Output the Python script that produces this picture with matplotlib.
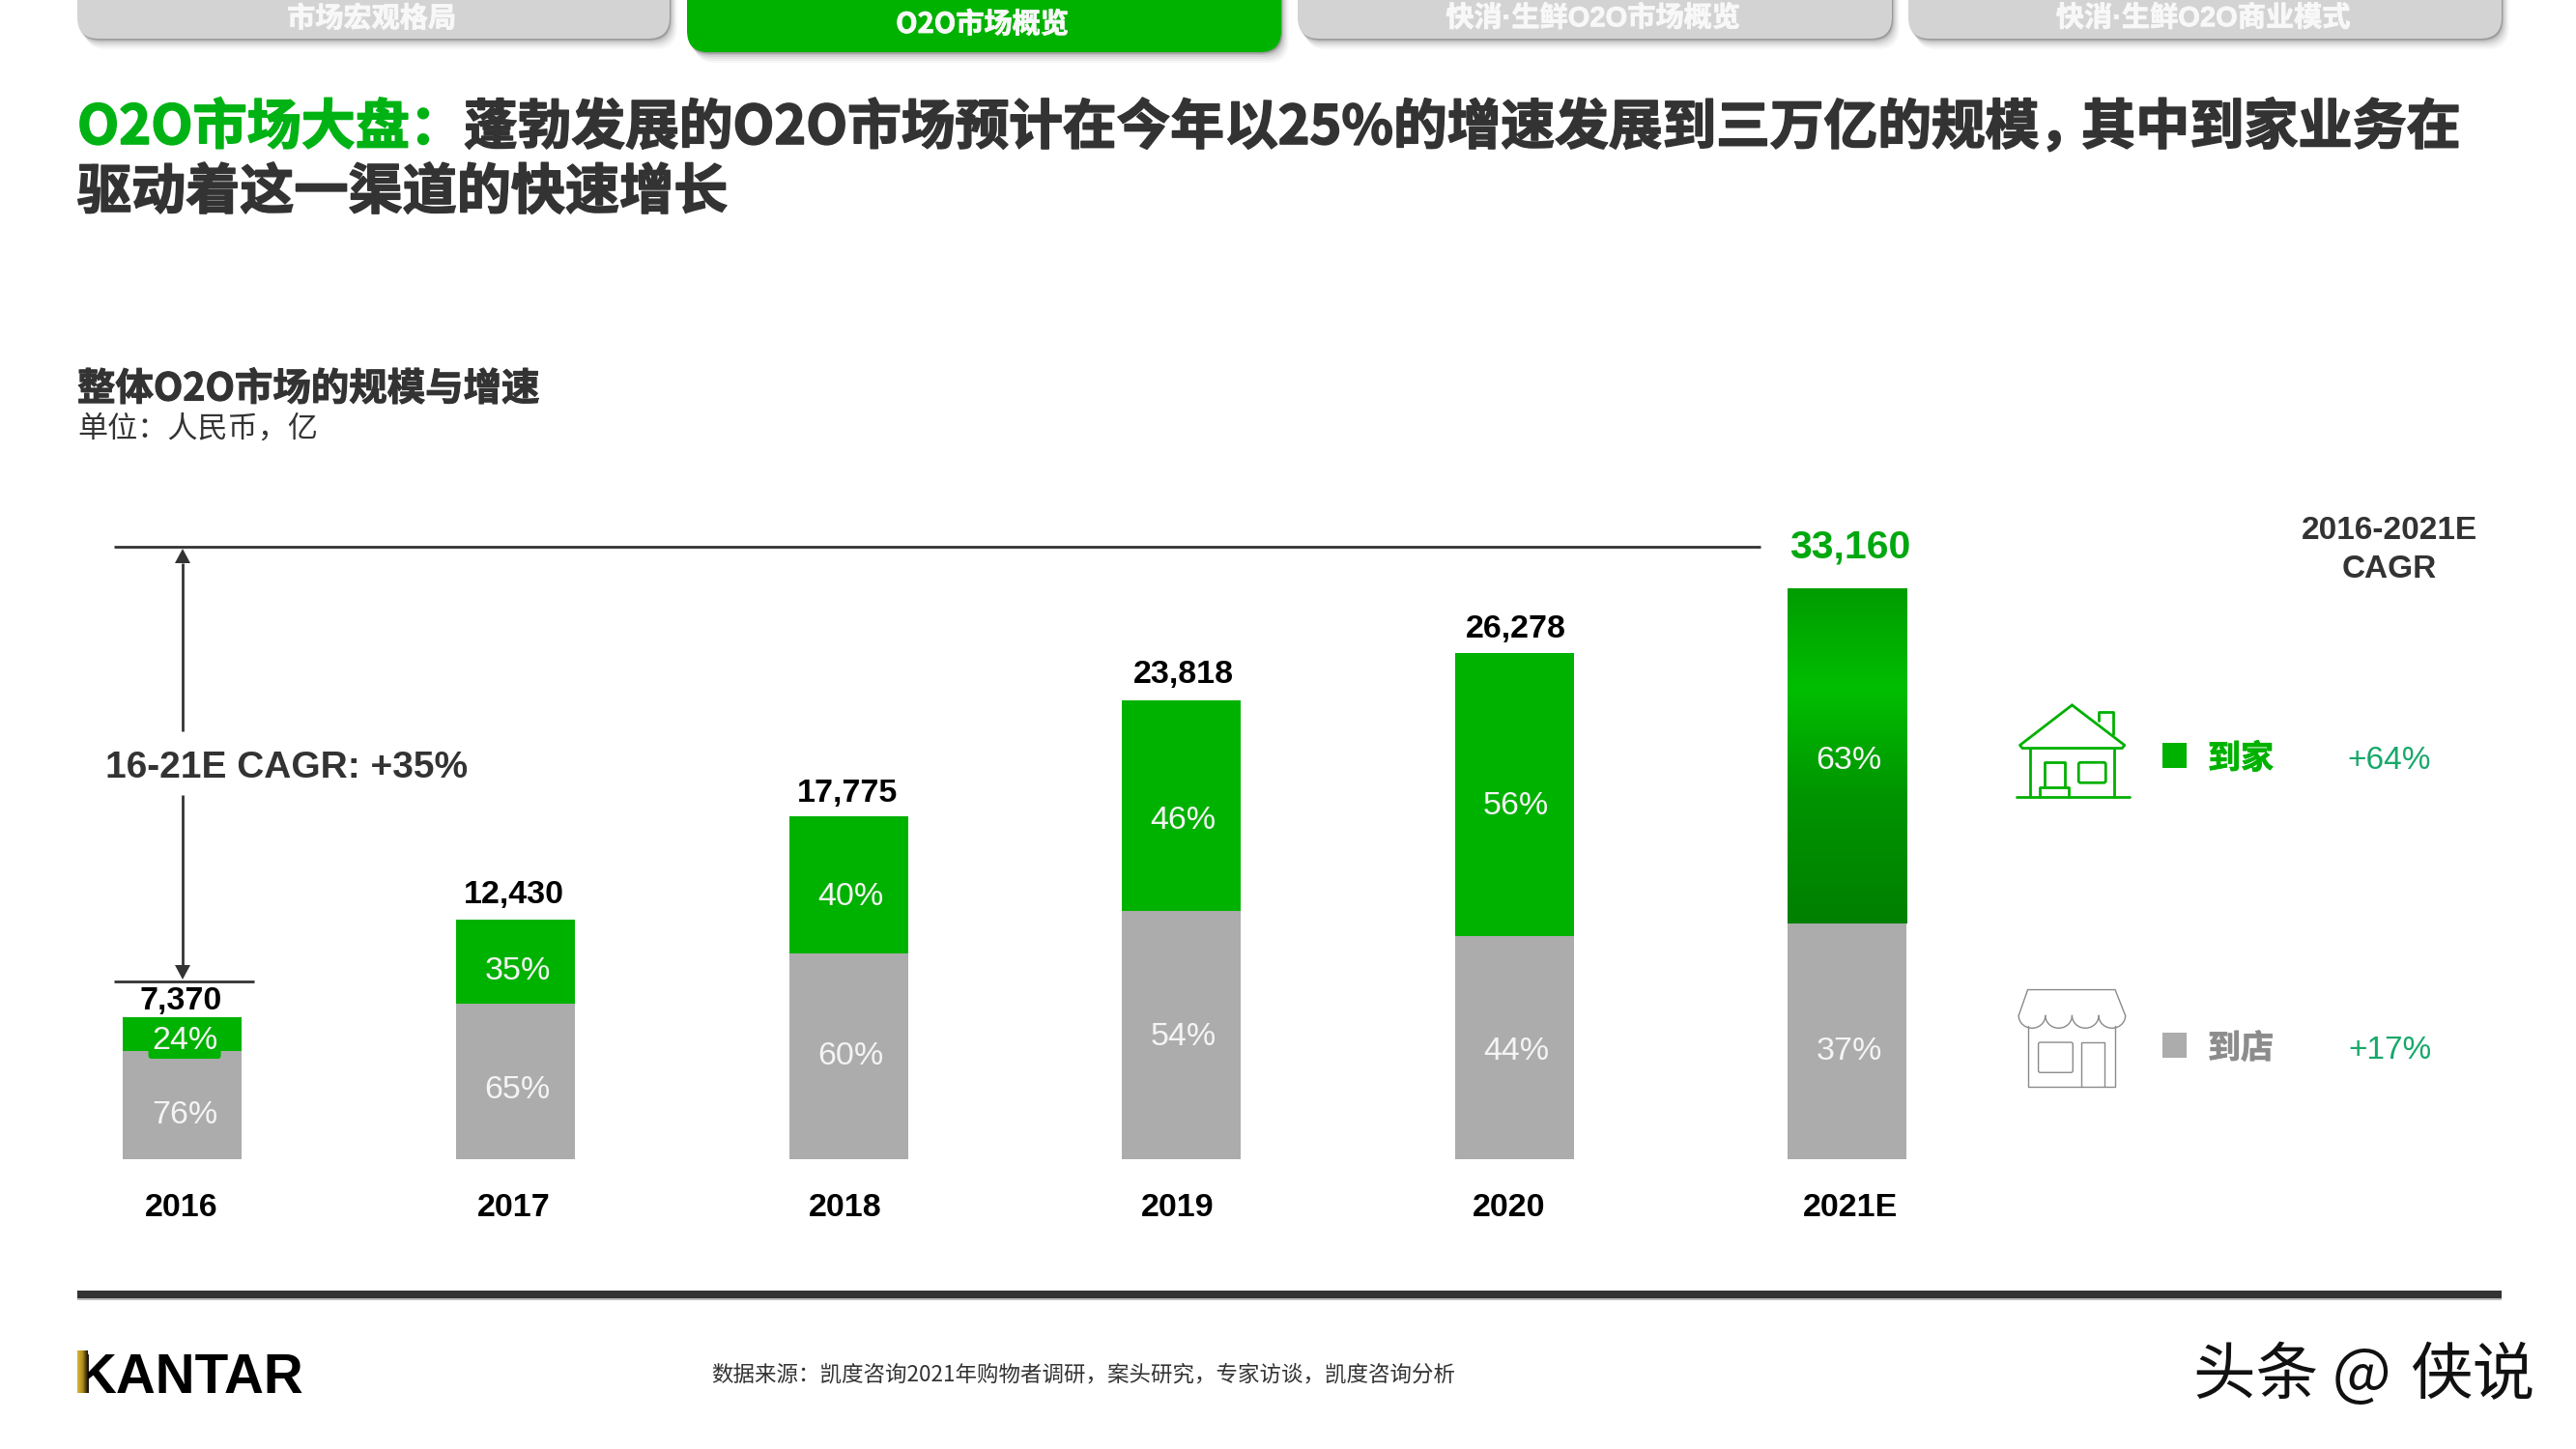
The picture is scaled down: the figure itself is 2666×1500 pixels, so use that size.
import numpy as np
import matplotlib
matplotlib.use('Agg')
import matplotlib.pyplot as plt
import matplotlib.patheffects as pe
from matplotlib.patches import FancyBboxPatch, Rectangle, Polygon
from matplotlib.colors import LinearSegmentedColormap

# ---------- data ----------
years = ['2016', '2017', '2018', '2019', '2020', '2021E']
totals = ['7,370', '12,430', '17,775', '23,818', '26,278', '33,160']
store_values = [5601, 8080, 10665, 12862, 11562, 12220]
home_values = [1769, 4350, 7110, 10956, 14716, 17380]
home_share = [24, 35, 40, 46, 56, 63]
store_share = [76, 65, 60, 54, 44, 37]
tabs = ['市场宏观格局', 'O2O市场概览', '快消·生鲜O2O市场概览', '快消·生鲜O2O商业模式']

# ---------- style ----------
GREEN = '#00B200'
GRAY = '#ACACAC'
DARK = '#333333'
TEAL = '#17A86B'
CJK = ['Noto Sans CJK SC', 'DejaVu Sans']
LAT = ['Liberation Sans', 'DejaVu Sans']
W, H = 2666, 1500
COMMA = '\uff0c'
COLON = '\uff1a'

# label nudges, in points
store_dy = [-7.5, -6.2, 0, -1.5, -2.5, -7.5]
home_dy = [-4.7, -7, -8.5, -11, -8.5, -3.5]
total_dy = [11.5, 18.5, 17.5, 19, 17.5, 31]
total_dx = [-1, -1.5, -1, 2, 1, 2.5]
year_dx = [-0.005, -0.006, -0.01, -0.01, -0.015, 0.01]

fig = plt.figure(figsize=(W / 100, H / 100), dpi=100, facecolor='white')

# ---------- chart axes ----------
base_px, px_per_unit, ymax = 1200, 0.01995, 30000
first_px, step_px, bar_px = 189, 344.5, 123
ax = fig.add_axes([0, (H - base_px) / H, 1, ymax * px_per_unit / H], zorder=1)
ax.patch.set_alpha(0)
x = np.arange(len(years))
ax.bar(x, store_values, width=bar_px / step_px, color=GRAY, linewidth=0, zorder=2)
ax.bar(x, home_values, width=bar_px / step_px, bottom=store_values, color=GREEN, linewidth=0, zorder=2)

# gradient on the final segment
cm = LinearSegmentedColormap.from_list('g', [(0, '#009C00'), (0.3, '#00BE00'), (0.62, '#009400'), (1, '#008000')])
grad = np.linspace(0, 1, 256).reshape(-1, 1)
b = bar_px / step_px / 2
ax.imshow(grad, cmap=cm, aspect='auto', zorder=3,
          extent=(x[-1] - b, x[-1] + b, store_values[-1], store_values[-1] + home_values[-1]),
          origin='upper')
ax.set_xlim(-first_px / step_px, (W - first_px) / step_px)
ax.set_ylim(0, ymax)
ax.set_yticks([])
ax.set_xticks(x + np.array(year_dx))
ax.set_xticklabels(years, fontfamily=LAT, fontweight='bold', fontsize=24.5, color='black')
ax.tick_params(axis='x', length=0, pad=25.5)
for s in ax.spines.values():
    s.set_visible(False)

for i in x:
    ax.annotate(f'{store_share[i]}%', (i, store_values[i] / 2), xytext=(1.5, store_dy[i]), textcoords='offset points',
                ha='center', va='center', fontfamily=LAT, fontsize=24.5, color='#F4F4F4', zorder=6)
    bbox = None
    if i == 0:
        bbox = dict(boxstyle='round,pad=0.1,rounding_size=0.1', fc=GREEN, ec='none')
    ax.annotate(f'{home_share[i]}%', (i, store_values[i] + home_values[i] / 2), xytext=(1.5, home_dy[i]),
                textcoords='offset points', ha='center', va='center', fontfamily=LAT, fontsize=24.5,
                color='#F4F4F4', zorder=6, bbox=bbox)
    last = i == len(x) - 1
    ax.annotate(totals[i], (i, store_values[i] + home_values[i]), xytext=(total_dx[i], total_dy[i]),
                textcoords='offset points', ha='center', va='center', fontfamily=LAT, fontweight='bold',
                fontsize=29.5 if last else 24.5, color='#00A80F' if last else 'black', zorder=6)

# ---------- page overlay in pixel coordinates ----------
ov = fig.add_axes([0, 0, 1, 1], zorder=2)
ov.patch.set_alpha(0)
ov.axis('off')


def heavy(color, w):
    return [pe.withStroke(linewidth=w, foreground=color)]


# tabs
tab_x = [(80, 693), (711, 1326), (1343, 1958), (1975, 2589)]
for k, ((x0, x1), label) in enumerate(zip(tab_x, tabs)):
    active = k == 1
    bottom = 54 if active else 40
    for dy, a in [(11, .05), (9, .07), (7, .09), (5, .13), (3, .22), (1.5, .45)]:
        ov.add_patch(FancyBboxPatch((x0 + dy * 0.7, -60), x1 - x0, bottom + 60 + dy,
                                    boxstyle='round,pad=0,rounding_size=22',
                                    fc='#707070', ec='none', alpha=a, lw=0, zorder=2))
    ov.add_patch(FancyBboxPatch((x0, -60), x1 - x0, bottom + 60,
                                boxstyle='round,pad=0,rounding_size=22',
                                fc=GREEN if active else '#D3D3D3', ec='none', lw=0, zorder=3))
    fam = LAT + ['Noto Sans CJK SC'] if '·' in label else CJK
    ov.text((x0 + x1) / 2 - 2, 25 if active else 19, label, ha='center', va='center', family=fam,
            fontweight='bold', fontsize=21, color='#F8F8F8', zorder=4, path_effects=heavy('#F8F8F8', 0.6))

# headline
ov.text(80, 133, 'O2O市场大盘' + COLON, ha='left', va='center', family=CJK, fontweight='bold', fontsize=40.4,
        color='#00B214', path_effects=heavy('#00B214', 1.2))
ov.text(480, 133, '蓬勃发展的O2O市场预计在今年以25%的增速发展到三万亿的规模' + COMMA,
        ha='left', va='center', family=CJK, fontweight='bold', fontsize=40.1, color=DARK, path_effects=heavy(DARK, 1.2))
ov.text(2154, 133, '其中到家业务在',
        ha='left', va='center', family=CJK, fontweight='bold', fontsize=40.4, color=DARK, path_effects=heavy(DARK, 1.2))
ov.text(80, 200, '驱动着这一渠道的快速增长', ha='left', va='center', family=CJK, fontweight='bold', fontsize=40.4,
        color=DARK, path_effects=heavy(DARK, 1.2))

ov.text(80, 403, '整体O2O市场的规模与增速', ha='left', va='center', family=CJK, fontweight='bold', fontsize=28.4,
        color=DARK, path_effects=heavy(DARK, 0.8))
ov.text(80, 444, '单位' + COLON + '人民币' + COMMA + '亿', ha='left', va='center', family=CJK, fontsize=22.4, color=DARK)

# CAGR bracket
lw = 2.0
ov.plot([118, 1822], [566, 566], color=DARK, lw=lw, solid_capstyle='butt')
ov.plot([118, 263], [1016, 1016], color=DARK, lw=lw, solid_capstyle='butt')
ov.plot([189, 189], [583, 757], color=DARK, lw=lw, solid_capstyle='butt')
ov.plot([189, 189], [823, 1000], color=DARK, lw=lw, solid_capstyle='butt')
ov.add_patch(Polygon([(189, 568), (181, 583), (197, 583)], fc=DARK, ec='none'))
ov.add_patch(Polygon([(189, 1014), (181, 999), (197, 999)], fc=DARK, ec='none'))
ov.text(109, 795, '16-21E CAGR: +35%', ha='left', va='center', family=LAT, fontweight='bold', fontsize=28, color=DARK)

# right panel
ov.text(2473, 550, '2016-2021E', ha='center', va='center', family=LAT, fontweight='bold', fontsize=24, color=DARK)
ov.text(2473, 590, 'CAGR', ha='center', va='center', family=LAT, fontweight='bold', fontsize=24, color=DARK)
ov.add_patch(Rectangle((2238, 769), 25, 26, fc=GREEN, ec='none'))
ov.add_patch(Rectangle((2238, 1069), 25, 26, fc=GRAY, ec='none'))
ov.text(2285, 785, '到家', ha='left', va='center', family=CJK, fontweight='bold', fontsize=24.5, color=GREEN,
        path_effects=heavy(GREEN, 0.6))
ov.text(2285, 1085, '到店', ha='left', va='center', family=CJK, fontweight='bold', fontsize=24.5, color='#8C8C8C',
        path_effects=heavy('#8C8C8C', 0.6))
ov.text(2473, 787, '+64%', ha='center', va='center', family=LAT, fontsize=24, color=TEAL)
ov.text(2473, 1087, '+17%', ha='center', va='center', family=LAT, fontsize=24, color=TEAL)


def ic(px, py):
    return 2000 + np.asarray(px, float) / 2.354, 500 + np.asarray(py, float) / 2.24


def path(px, py, color, lw):
    a, b_ = ic(px, py)
    ov.plot(a, b_, color=color, lw=lw, solid_joinstyle='round', solid_capstyle='round')


def rrect(x0, x1, y0, y1, color, lw, r=2):
    (a0, a1), (b0, b1) = ic([x0, x1], [y0, y1])
    ov.add_patch(FancyBboxPatch((a0 + r, b0 + r), a1 - a0 - 2 * r, b1 - b0 - 2 * r,
                                boxstyle=f'round,pad={r},rounding_size={r}', fc='none', ec=color, lw=lw))


# house icon
c = '#00B000'
path([340, 468, 462, 219, 213, 340], [515, 608, 615, 615, 608, 515], c, 2)
path([238, 238], [615, 727], c, 2)
path([442, 442], [615, 727], c, 2)
path([205, 480], [727, 727], c, 2)
path([405, 405, 440, 440], [552, 530, 530, 582], c, 2)
path([272, 272, 322, 322], [705, 648, 648, 705], c, 2)
path([262, 262, 333, 333], [727, 705, 705, 727], c, 2)
rrect(356, 422, 648, 695, c, 2)

# store icon
c = '#8A8A8A'
path([232, 445, 470], [1175, 1175, 1235], c, 1)
path([232, 210], [1175, 1235], c, 1)
t = np.linspace(0, np.pi, 30)
for s0 in [210, 275, 340, 405]:
    path(s0 + 32.5 - 32.5 * np.cos(t), 1235 + 29 * np.sin(t), c, 1)
path([234, 234, 445, 445], [1258, 1400, 1400, 1258], c, 1)
rrect(258, 342, 1297, 1367, c, 1)
path([362, 362, 420, 420], [1400, 1297, 1297, 1400], c, 1)

# footer
ov.add_patch(Rectangle((80, 1336), 2509, 8, fc=DARK, ec='none'))
ov.add_patch(Rectangle((80, 1344), 2509, 1.5, fc='#BBBBBB', ec='none'))
ov.text(79, 1442, 'KANTAR', ha='left', va='baseline', family=LAT, fontweight='bold', fontsize=40.8, color='black')
gold = LinearSegmentedColormap.from_list('k', ['#D8B43A', '#B08D20', '#1A1400'])
ov.imshow(np.linspace(0, 1, 32).reshape(1, -1), cmap=gold, aspect='auto', extent=(80, 91, 1442, 1398), zorder=5)
ov.text(736, 1423, '数据来源' + COLON + '凯度咨询2021年购物者调研' + COMMA + '案头研究' + COMMA + '专家访谈' + COMMA + '凯度咨询分析',
        ha='left', va='center', family=CJK, fontsize=16.2, color=DARK)
ov.text(2270, 1425, '头条 @', ha='left', va='center', family=CJK, fontsize=46.5, color='#111111')
ov.text(2494, 1425, '侠说', ha='left', va='center', family=CJK, fontsize=46.5, color='#111111')

ov.set_xlim(0, W)
ov.set_ylim(H, 0)

fig.savefig('out.png', dpi=100, facecolor='white')
